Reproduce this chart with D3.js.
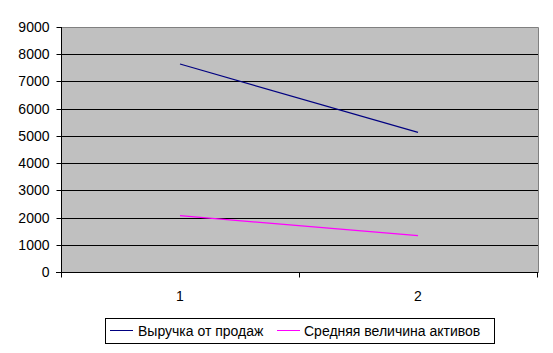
<!DOCTYPE html>
<html><head><meta charset="utf-8">
<script src="https://cdn.jsdelivr.net/npm/d3@7"></script>
<style>body{margin:0;background:#fff}svg{display:block}text{font-family:"Liberation Sans",Arial,sans-serif;font-size:14px;fill:#000}</style>
</head><body>
<svg id="c" width="553" height="353"></svg>
<script>
const categories = ["1", "2"];
const seriesNames = ["Выручка от продаж", "Средняя величина активов"];
const revenue = [7640, 5130];
const assets = [2070, 1335];
const yTicks = [0, 1000, 2000, 3000, 4000, 5000, 6000, 7000, 8000, 9000];
const colors = ["#000080", "#FF00FF"];

const svg = d3.select("#c");
const L = 62, R = 538, T = 27, B = 272;
const x = d3.scaleBand().domain(categories).range([L, R]).padding(0);
const y = d3.scaleLinear().domain([0, 9000]).range([B, T]);

svg.append("rect").attr("x", L).attr("y", T).attr("width", R - L).attr("height", B - T)
  .attr("fill", "#C0C0C0");

// gridlines
svg.append("g").selectAll("line").data(yTicks.filter(d => d > 0 && d < 9000)).join("line")
  .attr("x1", L).attr("x2", R).attr("y1", d => Math.round(y(d)) + 0.5).attr("y2", d => Math.round(y(d)) + 0.5)
  .attr("stroke", "#000").attr("stroke-width", 1);

// plot border top/right
svg.append("path").attr("d", `M${L},${T + 0.5}H${R + 0.5}V${B}`).attr("fill", "none").attr("stroke", "#808080");

// y axis
const ya = svg.append("g").attr("transform", `translate(${L - 0.5},0)`)
  .call(d3.axisLeft(y).tickValues(yTicks).tickSize(5).tickPadding(7).tickFormat(d3.format("d")));
ya.select(".domain").attr("stroke", "#000").attr("d", `M0,${T}V${B + 0.5}`);
ya.selectAll(".tick line").attr("stroke", "#000");
ya.selectAll(".tick").attr("transform", d => `translate(0,${Math.round(y(d)) + 0.5})`);
ya.selectAll("text").attr("font-size", 14).attr("font-family", "Liberation Sans, Arial, sans-serif").attr("fill", "#000");

// x axis
const xa = svg.append("g").attr("transform", `translate(0,${B + 0.5})`);
xa.append("line").attr("x1", L - 6).attr("x2", R + 0.5).attr("stroke", "#000");
const bounds = [L, ...categories.map(c => x(c) + x.bandwidth())];
xa.selectAll(".bt").data(bounds).join("line").attr("class", "bt")
  .attr("x1", d => Math.round(d) - 0.5).attr("x2", d => Math.round(d) - 0.5).attr("y1", 0).attr("y2", 5).attr("stroke", "#000");
xa.selectAll(".lb").data(categories).join("text").attr("class", "lb")
  .attr("x", d => x(d) + x.bandwidth() / 2 - 1).attr("y", 28).attr("text-anchor", "middle").text(d => d);

// lines
const line = d3.line().x((d, i) => x(categories[i]) + x.bandwidth() / 2 - 1).y(d => y(d));
[revenue, assets].forEach((s, i) => {
  svg.append("path").datum(s).attr("d", line).attr("fill", "none").attr("stroke", colors[i]).attr("stroke-width", 1.2);
});

// legend
const lg = svg.append("g");
lg.append("rect").attr("x", 105.5).attr("y", 318.5).attr("width", 389).attr("height", 25)
  .attr("fill", "#fff").attr("stroke", "#000");
const items = [{x: 110, tx: 138}, {x: 277, tx: 304}];
items.forEach((it, i) => {
  lg.append("line").attr("x1", it.x).attr("x2", it.x + 23).attr("y1", 330.5).attr("y2", 330.5).attr("stroke", colors[i]);
  lg.append("text").attr("x", it.tx).attr("y", 336).text(seriesNames[i]);
});
</script>
</body></html>
